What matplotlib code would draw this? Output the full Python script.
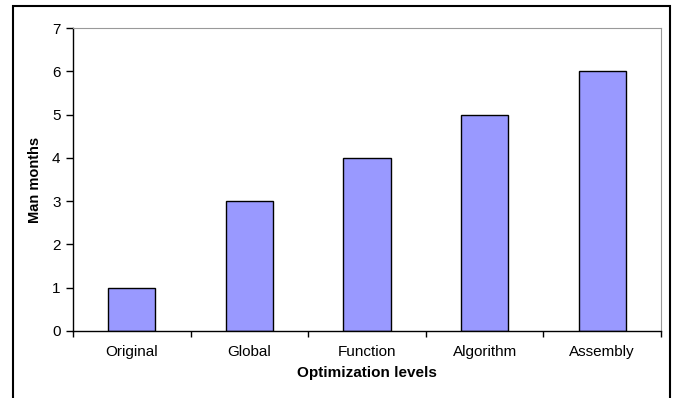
import matplotlib.pyplot as plt
from matplotlib.patches import Rectangle

levels = ['Original', 'Global', 'Function', 'Algorithm', 'Assembly']
man_months = [1, 3, 4, 5, 6]
y_ticks = [0, 1, 2, 3, 4, 5, 6, 7]

plt.rcParams['font.family'] = ['Liberation Sans', 'DejaVu Sans']

W, H = 677, 398
fig = plt.figure(figsize=(W / 100, H / 100), dpi=100)

# outer chart border (bottom edge falls outside the picture)
fig.patches.append(Rectangle((12.5 / W, -0.05), (670 - 12.5) / W, 1.05 - 6.5 / H,
                             transform=fig.transFigure, fill=False,
                             edgecolor='black', linewidth=1.5))

left, right, top, bottom = 73, 661, 28, 331
ax = fig.add_axes([left / W, 1 - bottom / H, (right - left) / W, (bottom - top) / H])

x = list(range(len(levels)))
ax.bar(x, man_months, width=0.4, color='#9999FF', edgecolor='black', linewidth=1)

ax.set_xlim(-0.5, len(levels) - 0.5)
ax.set_ylim(0, 7)
ax.set_yticks(y_ticks)
ax.set_xticks(x)
ax.set_xticklabels(levels, fontsize=11)
ax.tick_params(axis='x', length=0, pad=10)
ax.set_xticks([i + 0.5 for i in range(-1, len(levels))], minor=True)
ax.tick_params(axis='x', which='minor', length=4, width=1, direction='out')
ax.tick_params(axis='y', length=5, width=1, direction='out', labelsize=11, pad=4)

for s in ['top', 'right']:
    ax.spines[s].set_color('#999999')
for s in ['left', 'bottom']:
    ax.spines[s].set_color('black')
    ax.spines[s].set_linewidth(1)

ax.set_xlabel('Optimization levels', fontsize=11, fontweight='bold', labelpad=5)
ax.set_ylabel('Man months', fontsize=10.5, fontweight='bold', labelpad=7)

fig.savefig('out.png', dpi=100)
